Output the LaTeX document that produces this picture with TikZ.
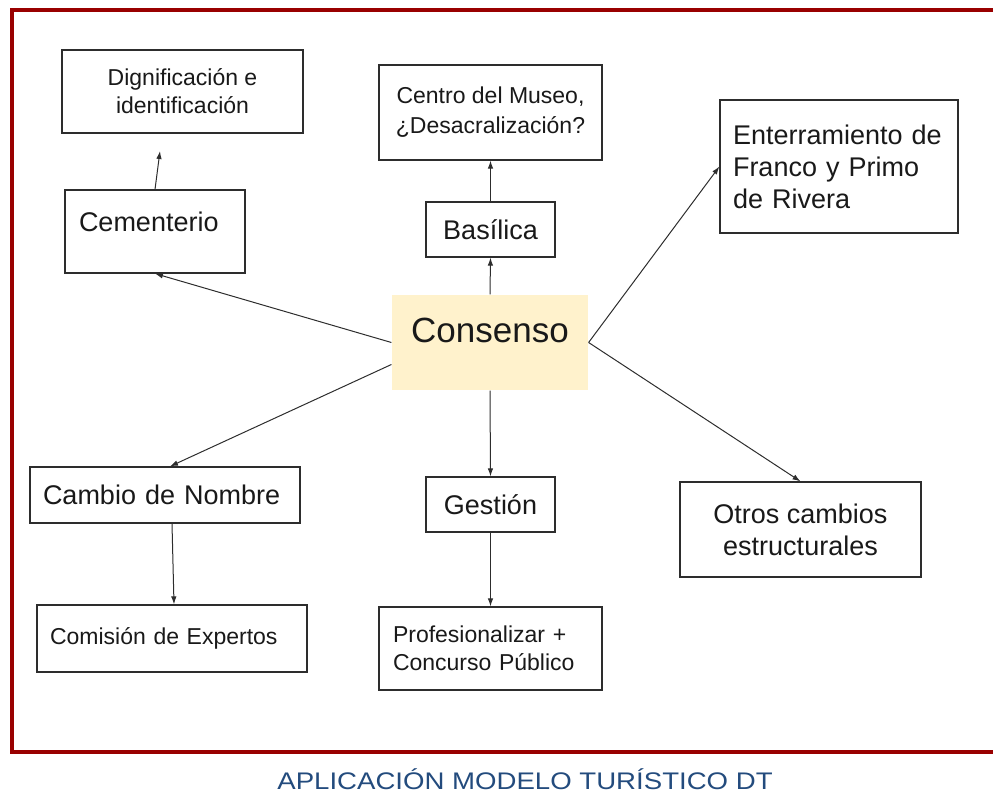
\documentclass[tikz,border=0pt]{standalone}
\usepackage{fontspec}
\setmainfont{Liberation Sans}
\usetikzlibrary{arrows.meta}
\definecolor{framered}{RGB}{153,0,0}
\definecolor{consfill}{RGB}{255,242,204}
\definecolor{titleblue}{RGB}{35,75,125}
\definecolor{linegray}{RGB}{45,45,45}
\definecolor{textgray}{RGB}{25,25,25}
\tikzset{
  box/.style={draw=linegray, line width=1.2pt, fill=white, text=textgray, inner sep=0pt, font=\fontsize{27}{32}\selectfont},
  smallbox/.style={box, font=\fontsize{23}{28}\selectfont},
  leftbox/.style={align=left, inner xsep=14pt},
  conn/.style={-{Latex[length=8pt,width=5.5pt]}, draw=linegray, line width=1pt}
}
\begin{document}
\begin{tikzpicture}[x=1pt,y=-1pt]
\useasboundingbox (0,0) rectangle (993,794);

% marco rojo
\draw[framered, line width=4pt] (993,10) -- (12,10) -- (12,752) -- (993,752);

% centro
\node[box, fill=consfill, draw=none, minimum width=196pt, minimum height=95pt,
  font=\fontsize{35}{40}\selectfont, text height=26pt, text depth=26pt] (cons) at (490,342.5) {Consenso};

% rama izquierda
\node[smallbox, align=center, minimum width=241pt, minimum height=83pt] (dig) at (182.5,91.5) {Dignificación e\\identificación};
\node[box, leftbox, text width=152pt, minimum height=83pt, text height=20pt, text depth=20pt] (cem) at (155,231.5) {Cementerio};
\node[box, leftbox, inner xsep=13pt, text width=244pt, minimum height=56pt] (cam) at (165,495) {Cambio de Nombre};
\node[smallbox, leftbox, inner xsep=13pt, text width=244pt, minimum height=67pt] (com) at (172,638.5) {Comisión de Expertos};

% rama central
\node[smallbox, align=center, minimum width=223pt, minimum height=95pt, font=\fontsize{23}{30}\selectfont] (mus) at (490.5,112.5) {Centro del Museo,\\¿Desacralización?};
\node[box, minimum width=129pt, minimum height=55pt] (bas) at (490.5,229.5) {Basílica};
\node[box, minimum width=129pt, minimum height=55pt] (ges) at (490.5,504.5) {Gestión};
\node[smallbox, leftbox, text width=195pt, minimum height=83pt] (pro) at (490.5,648.5) {Profesionalizar +\\Concurso Público};

% rama derecha
\node[box, leftbox, text width=212pt, inner xsep=13pt, minimum height=133pt] (ent) at (839,166.5) {Enterramiento de\\Franco y Primo\\de Rivera};
\node[box, align=center, minimum width=241pt, minimum height=95pt] (otr) at (800.5,529.5) {Otros cambios\\estructurales};

% flechas
\coordinate (digend) at (160,151);
\draw[conn] (cem.north) -- (digend);
\draw[conn] (cons.west) -- (cem.south);
\draw[conn] ([yshift=-22pt]cons.west) -- ([xshift=5pt]cam.north);
\draw[conn] ([xshift=7pt]cam.south) -- ([xshift=2pt]com.north);
\draw[conn] (cons.north) -- (bas.south);
\draw[conn] (bas.north) -- (mus.south);
\draw[conn] (cons.south) -- (ges.north);
\draw[conn] (ges.south) -- (pro.north);
\draw[conn] (cons.east) -- (ent.west);
\draw[conn] (cons.east) -- (otr.north);

% titulo
\node[text=titleblue, font=\fontsize{24}{28}\selectfont, xscale=1.15] (titulo) at (525,779) {APLICACIÓN MODELO TURÍSTICO DT};
\end{tikzpicture}
\end{document}
